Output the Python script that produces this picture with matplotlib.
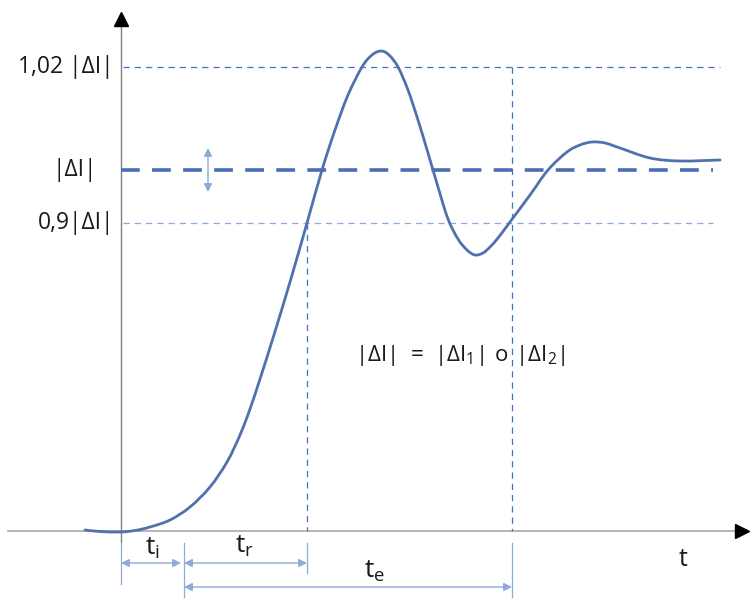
import matplotlib
matplotlib.use('Agg')
from matplotlib import pyplot as plt
from matplotlib.path import Path
from matplotlib.patches import PathPatch

plt.rcParams['font.family'] = ['Open Sans', 'DejaVu Sans']
plt.rcParams['mathtext.fontset'] = 'custom'
plt.rcParams['mathtext.rm'] = 'Open Sans'

# Response curve (t from the origin, value up from the t axis)
curve_t = [-36, -21, -1, 14, 29, 49, 69, 89, 106, 119, 129, 139, 152, 169, 186,
           201, 214, 227, 241, 251, 260, 268, 277, 287, 297, 307, 317, 327, 337, 346,
           354, 362, 369, 377, 389, 409, 427, 446, 459, 471, 484, 499, 529, 559, 599]
curve_v = [1, -0.5, -1, 0.5, 4, 11, 24, 44, 69, 96, 122, 152, 193, 249, 308,
           361, 401, 436, 464, 476, 480, 476, 464, 441, 411, 378, 344, 312, 292, 281,
           276, 278, 284, 293, 309, 336, 361, 379, 386, 389, 388, 383, 373, 370, 371]

# Reference levels (as drawn, schematic)
level_names = ['1,02 |ΔI|', '|ΔI|', '0,9|ΔI|']
level_v = [464, 361, 308]

# Times on the t axis
t_i_end = 60
t_r_start = 63
t_r_end = 186
t_e_end = 391


def smooth_path(xs, ys):
    # Catmull-Rom through the read points, handed to matplotlib as cubic Beziers
    pts = list(zip(xs, ys))
    verts = [pts[0]]
    codes = [Path.MOVETO]
    n = len(pts)
    for i in range(n - 1):
        p0 = pts[max(i - 1, 0)]
        p1 = pts[i]
        p2 = pts[i + 1]
        p3 = pts[min(i + 2, n - 1)]
        c1 = (p1[0] + (p2[0] - p0[0]) / 6, p1[1] + (p2[1] - p0[1]) / 6)
        c2 = (p2[0] - (p3[0] - p1[0]) / 6, p2[1] - (p3[1] - p1[1]) / 6)
        verts += [c1, c2, p2]
        codes += [Path.CURVE4] * 3
    return Path(verts, codes)


fig = plt.figure(figsize=(7.56, 6.04), dpi=100)
ax = fig.add_axes([0, 0, 1, 1])
ax.set_xlim(-121, 635)
ax.set_ylim(-73, 531)
ax.axis('off')

# axes with black arrow heads
ax.plot([-113, 622], [0, 0], color='#b0b0b0', lw=1.3, zorder=1)
ax.plot([621], [0], marker='>', color='black', markersize=10, zorder=2)
ax.plot([0, 0], [-11, 512], color='#808080', lw=1.0, zorder=1)
ax.plot([0], [512], marker='^', color='black', markersize=10, zorder=2)

# level lines
ax.plot([2, 599], [level_v[0]] * 2, color='#4472c4', lw=0.9, ls=(0, (5, 4)))
ax.plot([0, 592], [level_v[1]] * 2, color='#4a6db5', lw=2.6, ls=(0, (5.2, 3.4)))
ax.plot([2, 592], [level_v[2]] * 2, color='#8eaadb', lw=0.9, ls=(0, (5, 4)))

# vertical dashed markers
ax.plot([t_r_end, t_r_end], [level_v[2], 0], color='#4472c4', lw=0.9, ls=(0, (5, 4)))
ax.plot([t_e_end, t_e_end], [level_v[0], 0], color='#4472c4', lw=0.9, ls=(0, (5, 4)))

# response curve
ax.add_patch(PathPatch(smooth_path(curve_t, curve_v), facecolor='none',
                       edgecolor='#5071ad', lw=2.0, capstyle='round', zorder=3))

# extension lines under the t axis
ext_col = '#8eaadb'
for t, lo in [(0, -53), (t_r_start, -66), (t_r_end, -42), (t_e_end, -66)]:
    ax.plot([t, t], [-12, lo], color=ext_col, lw=0.9)

# time span arrows
arr = dict(arrowstyle='<|-|>', color=ext_col, lw=1.0, mutation_scale=12,
           shrinkA=0, shrinkB=0)
ax.annotate('', xy=(t_i_end, -32), xytext=(0, -32), arrowprops=arr)
ax.annotate('', xy=(t_r_end, -32), xytext=(t_r_start, -32), arrowprops=arr)
ax.annotate('', xy=(t_e_end, -56), xytext=(t_r_start, -56), arrowprops=arr)
ax.annotate('', xy=(87, 383), xytext=(87, 339), arrowprops=arr)

# labels
fs = 16.5
txt = '#1a1a1a'
ax.text(-7, level_v[0], level_names[0], ha='right', va='center', fontsize=fs, color=txt)
ax.text(-46, level_v[1], level_names[1], ha='center', va='center', fontsize=fs, color=txt)
ax.text(-7, level_v[2], level_names[2], ha='right', va='center', fontsize=fs, color=txt)

ax.text(31, -17, r'$\mathrm{t_i}$', ha='center', va='center', fontsize=19, color=txt)
ax.text(124, -15, r'$\mathrm{t_r}$', ha='center', va='center', fontsize=19, color=txt)
ax.text(254, -40, r'$\mathrm{t_e}$', ha='center', va='center', fontsize=19, color=txt)
ax.text(562, -29, 't', ha='center', va='center', fontsize=18, color=txt)

ax.text(339, 176, r'$\mathrm{|\Delta I|\ =\ |\Delta I_1|\ o\ |\Delta I_2|}$',
        ha='center', va='center', fontsize=16, color=txt)

fig.savefig('out.png', dpi=100)
